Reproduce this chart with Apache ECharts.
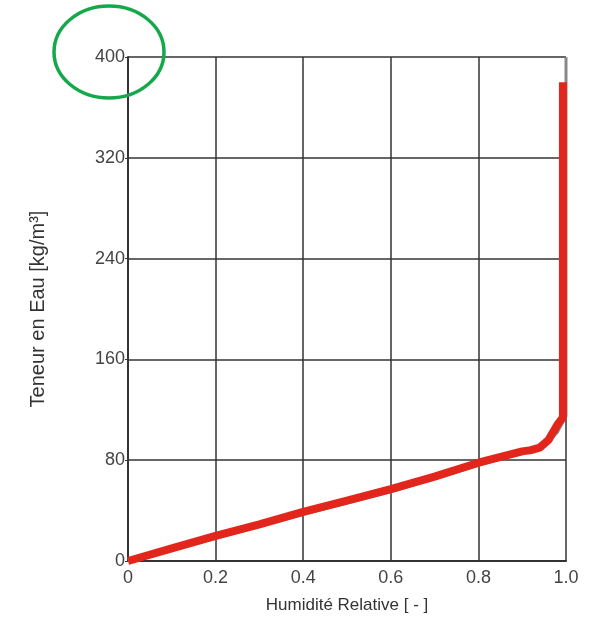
<!DOCTYPE html>
<html>
<head>
<meta charset="utf-8">
<script src="https://cdn.jsdelivr.net/npm/echarts@6/dist/echarts.min.js"></script>
<style>
    html, body { margin: 0; padding: 0; background: #fff; }
    #chart { width: 589px; height: 619px; }
</style>
</head>
<body>
<div id="chart"></div>
<script>
// courbe de sorption (trait rouge) et courbe d'origine (grise, dessous)
var humidite = [0, 0.1, 0.2, 0.3, 0.4, 0.5, 0.6, 0.7, 0.8, 0.9, 0.92, 0.94, 0.96, 0.98, 0.993, 0.993];
var teneur = [0, 10, 20, 29, 39, 48, 57, 67, 78, 87, 88, 90, 96, 108, 114, 380];
var humiditeGris = [0, 0.2, 0.4, 0.6, 0.8, 0.9, 0.95, 0.98, 1.0, 1.0];
var teneurGris = [0, 18, 37, 55, 76, 86, 92, 102, 115, 400];
var xTicks = ['0', '0.2', '0.4', '0.6', '0.8', '1.0'];

var myChart = echarts.init(document.getElementById('chart'));

function pairs(xs, ys) {
    return xs.map(function (x, i) { return [x, ys[i]]; });
}

var option = {
    animation: false,
    backgroundColor: '#ffffff',
    textStyle: { fontFamily: 'Liberation Sans' },
    grid: { left: 128, right: 23, top: 57, bottom: 57 },
    xAxis: {
        type: 'value',
        min: 0,
        max: 1,
        interval: 0.2,
        name: 'Humidité Relative [ - ]',
        nameLocation: 'middle',
        nameGap: 36,
        nameTextStyle: { fontSize: 17, color: '#333' },
        axisLine: { show: true, onZero: false, lineStyle: { color: '#333', width: 2 } },
        axisTick: { show: false },
        axisLabel: {
            fontSize: 18,
            color: '#444',
            margin: 8,
            formatter: function (v) { return xTicks[Math.round(v / 0.2)]; }
        },
        splitLine: { show: true, lineStyle: { color: '#333', width: 1.5 } }
    },
    yAxis: {
        type: 'value',
        min: 0,
        max: 400,
        interval: 80,
        name: 'Teneur en Eau [kg/m³]',
        nameLocation: 'middle',
        nameGap: 80,
        nameTextStyle: { fontSize: 20, color: '#333' },
        axisLine: { show: true, lineStyle: { color: '#333', width: 2 } },
        axisTick: { show: true, length: 3, lineStyle: { color: '#333' } },
        axisLabel: { fontSize: 18, color: '#444', margin: 3 },
        splitLine: { show: true, lineStyle: { color: '#333', width: 1.5 } }
    },
    series: [
        {
            type: 'line',
            data: pairs(humiditeGris, teneurGris),
            showSymbol: false,
            lineStyle: { color: '#888', width: 3 },
            z: 2
        },
        {
            type: 'line',
            data: pairs(humidite, teneur),
            showSymbol: false,
            lineStyle: { color: '#e3261c', width: 8 },
            z: 3
        }
    ],
    graphic: [
        {
            type: 'ellipse',
            shape: { cx: 109, cy: 52, rx: 55, ry: 46 },
            style: { fill: 'none', stroke: '#14a84b', lineWidth: 3.5 },
            z: 100
        }
    ]
};

myChart.setOption(option);
window.addEventListener('resize', function () {
    myChart.resize();
});
</script>
</body>
</html>
